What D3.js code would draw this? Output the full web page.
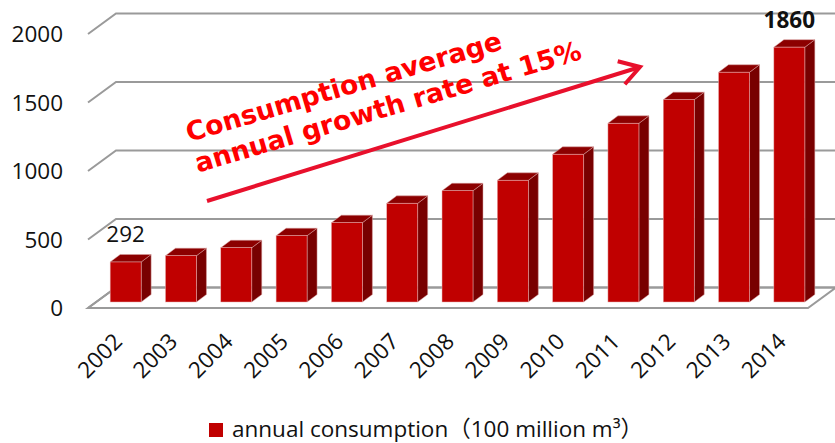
<!DOCTYPE html>
<html><head><meta charset="utf-8">
<script src="https://cdn.jsdelivr.net/npm/d3@7"></script>
<style>body{margin:0;background:#fff}svg{display:block}</style>
</head><body><svg id="c" width="835" height="443"></svg>
<script>
const years = ["2002","2003","2004","2005","2006","2007","2008","2009","2010","2011","2012","2013","2014"];
const consumption = [292,338,396,484,579,720,812,888,1078,1304,1477,1677,1860];
const yTicks = [0,500,1000,1500,2000];
const labelledYears = ["2002","2014"];
const annotationLines = ["Consumption average","annual growth rate at 15%"];
const legendLabel = "annual consumption\uFF08100 million m\u00B3\uFF09";

const svg = d3.select("#c");
const W = 835;
const wallDX = 28, wallDY = -20.5;   // depth of floor
const barDX = 10, barDY = -7.5;      // depth of bar
const barShiftY = 14.5;               // bars sit mid-floor
const yBack = d3.scaleLinear().domain([0,2000]).range([287.5,13.5]);
const x = d3.scaleBand().domain(years).range([98,817]).paddingInner(0.44).paddingOuter(0.22);
const frontLeft = 88, frontRight = 808;
const grid = "#9a9a9a";
const numFont = "'Open Sans', 'Noto Sans', sans-serif";

// floor
const f0 = yBack(0);
svg.append("path")
  .attr("d", `M${frontLeft},${f0-wallDY} L${frontRight},${f0-wallDY} L${frontRight+wallDX},${f0} L${frontLeft+wallDX},${f0} Z`)
  .attr("fill","#fff").attr("stroke",grid).attr("stroke-width",2).attr("stroke-linejoin","miter");

// gridlines on back wall + left side
svg.append("g").selectAll("path").data(yTicks).join("path")
  .attr("d", d => `M${frontLeft},${yBack(d)-wallDY} L${frontLeft+wallDX},${yBack(d)} L${W+5},${yBack(d)}`)
  .attr("fill","none").attr("stroke",grid).attr("stroke-width",2);

// y labels
svg.append("g").selectAll("text").data(yTicks).join("text")
  .attr("x",63).attr("y", d => yBack(d)-wallDY).attr("dy","0.36em")
  .attr("text-anchor","end").attr("font-family",numFont).attr("font-size",22.5).attr("fill","#111")
  .text(d => d);

// bars
const data = years.map((y,i)=>({year:y, v:consumption[i]}));
const bars = svg.append("g").selectAll("g").data(data).join("g");
const bw = x.bandwidth();
bars.each(function(d){
  const g = d3.select(this);
  const x0 = x(d.year), x1 = x0 + bw;
  const top = yBack(d.v) + barShiftY, bot = yBack(0) + barShiftY;
  g.append("path").attr("d",`M${x1},${top} L${x1+barDX},${top+barDY} L${x1+barDX},${bot+barDY} L${x1},${bot} Z`)
    .attr("fill","#780000").attr("stroke","#d9a0a0").attr("stroke-width",0.5);
  g.append("path").attr("d",`M${x0},${top} L${x0+barDX},${top+barDY} L${x1+barDX},${top+barDY} L${x1},${top} Z`)
    .attr("fill","#8c0000").attr("stroke","#d9a0a0").attr("stroke-width",0.5);
  g.append("rect").attr("x",x0).attr("y",top).attr("width",bw).attr("height",bot-top)
    .attr("fill","#c00000").attr("stroke","#e7b0b0").attr("stroke-width",0.5);
});

// data labels
svg.append("g").selectAll("text").data(data.filter(d=>labelledYears.includes(d.year))).join("text")
  .attr("x", d => x(d.year)+bw/2).attr("y", d => yBack(d.v)+barShiftY-19.5)
  .attr("text-anchor","middle").attr("font-family",numFont).attr("font-size",22.5)
  .attr("font-weight", d => d.year==="2014" ? "bold" : "normal").attr("fill","#111")
  .text(d => d.v);

// x labels
svg.append("g").selectAll("text").data(years).join("text")
  .attr("transform", d => `translate(${x(d)+bw/2-2},343) rotate(-45)`)
  .attr("text-anchor","end").attr("font-family",numFont).attr("font-size",22.5).attr("fill","#111")
  .text(d => d);

// arrow
const ax0=207, ay0=201, ax1=640, ay1=67;
const ang = Math.atan2(ay1-ay0, ax1-ax0);
const arrowCol = "#e8102c";
svg.append("line").attr("x1",ax0).attr("y1",ay0).attr("x2",ax1).attr("y2",ay1)
  .attr("stroke",arrowCol).attr("stroke-width",4);
const hl = 23, ha = 0.55;
svg.append("path")
  .attr("d", `M${ax1-hl*Math.cos(ang-ha)},${ay1-hl*Math.sin(ang-ha)} L${ax1},${ay1} L${ax1-hl*Math.cos(ang+ha)},${ay1-hl*Math.sin(ang+ha)}`)
  .attr("fill","none").attr("stroke",arrowCol).attr("stroke-width",4).attr("stroke-linejoin","miter");

// annotation text
const ann = svg.append("g").attr("transform","translate(189,142) rotate(-16.5)");
ann.selectAll("text").data(annotationLines).join("text")
  .attr("x",0).attr("y",(d,i)=>i*32)
  .attr("font-family","'DejaVu Sans', sans-serif").attr("font-weight","bold").attr("font-size",26.6)
  .attr("fill","#ff0000").text(d=>d);

// legend
svg.append("rect").attr("x",209).attr("y",423).attr("width",14).attr("height",14).attr("fill","#c00000");
svg.append("text").attr("x",232).attr("y",436.5).attr("font-family","'Open Sans', 'Noto Sans CJK SC', sans-serif")
  .attr("font-size",22.5).attr("fill","#111").text(legendLabel);
</script></body></html>
